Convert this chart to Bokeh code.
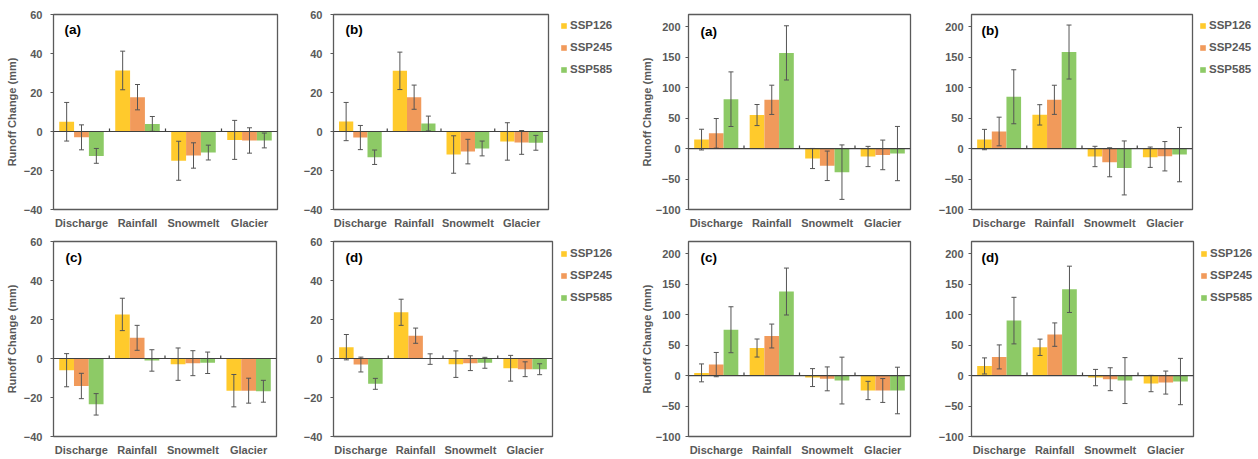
import numpy as np
from bokeh.plotting import figure
from bokeh.models import (ColumnDataSource, Range1d, FixedTicker, LinearAxis,
                          Whisker, TeeHead, Legend, LegendItem, Label, Span)
from bokeh.layouts import row, column
from bokeh.embed import file_html
from bokeh.resources import INLINE

# ---------------- data ----------------
categories = ["Discharge", "Rainfall", "Snowmelt", "Glacier"]
scenarios = ["SSP126", "SSP245", "SSP585"]

left_ticks = [-40, -20, 0, 20, 40, 60]
right_ticks = [-100, -50, 0, 50, 100, 150, 200]

# rows: SSP126, SSP245, SSP585 ; columns follow `categories`
left_a_mean = [[5.0, 31.3, -15.0, -4.3], [-3.0, 17.6, -12.3, -4.6], [-12.5, 3.9, -10.8, -4.6]]
left_a_err = [[9.9, 9.9, 10.0, 10.0], [6.4, 6.5, 6.5, 6.5], [3.8, 3.8, 3.8, 3.8]]

left_b_mean = [[5.1, 31.1, -11.8, -5.1], [-3.1, 17.6, -10.3, -5.6], [-13.2, 4.1, -8.7, -5.8]]
left_b_err = [[9.8, 9.6, 9.6, 9.6], [6.2, 6.2, 6.3, 6.1], [3.7, 3.8, 3.8, 3.8]]

left_c_mean = [[-6.0, 22.6, -2.9, -16.5], [-14.1, 10.6, -2.4, -16.5], [-23.5, -1.0, -2.2, -16.8]]
left_c_err = [[8.5, 8.3, 8.3, 8.3], [6.5, 6.4, 6.4, 6.4], [5.5, 5.5, 5.5, 5.6]]

left_d_mean = [[5.8, 23.7, -2.9, -5.0], [-3.1, 11.7, -2.4, -5.5], [-13.0, -0.3, -2.2, -5.5]]
left_d_err = [[6.5, 6.7, 6.8, 6.6], [3.8, 3.9, 3.8, 3.8], [2.8, 2.7, 2.8, 2.8]]

right_a_mean = [[14.7, 55.0, -16.3, -13.0], [25.0, 80.0, -28.3, -10.4], [81.0, 157.0, -38.7, -8.2]]
right_a_err = [[17.0, 17.3, 16.5, 16.6], [24.3, 24.0, 24.2, 24.3], [44.8, 44.5, 44.7, 44.5]]

right_b_mean = [[14.8, 55.3, -13.0, -14.2], [28.0, 80.0, -22.5, -12.6], [85.0, 158.4, -31.8, -9.9]]
right_b_err = [[16.7, 16.7, 16.7, 16.7], [23.5, 23.9, 23.8, 24.1], [44.3, 44.3, 44.3, 44.6]]

right_c_mean = [[4.4, 45.2, -3.3, -24.5], [18.0, 64.9, -5.4, -24.5], [75.2, 137.9, -8.2, -24.5]]
right_c_err = [[14.7, 14.8, 14.7, 15.0], [19.9, 19.6, 19.6, 19.6], [37.7, 38.5, 38.4, 38.2]]

right_d_mean = [[15.8, 46.4, -3.3, -13.1], [30.6, 67.2, -6.0, -11.5], [90.2, 141.5, -8.2, -9.8]]
right_d_err = [[13.2, 13.4, 13.4, 13.4], [19.7, 19.2, 18.8, 18.9], [38.2, 38.0, 37.7, 38.0]]

# ---------------- style ----------------
COLORS = ["#FFCA2C", "#F19A5B", "#8DCA66"]
FONT = "Liberation Sans"
GRAY = "#595959"
AXIS_DARK = "#404040"
BAR_W = 0.265
TICK_PX = 3


def series_source(mean, err, s):
    n = len(categories)
    vals = np.array(mean[s], dtype=float)
    e = np.array(err[s], dtype=float)
    return ColumnDataSource(dict(x=np.arange(1, n + 1) + (s - 1) * BAR_W,
                                 top=vals, upper=vals + e, lower=vals - e))


def make_panel(mean, err, tag, y_lo, y_hi, yticks, w, h, bl, br, bt, bb,
               ylabel, tick_standoff, ylab_standoff, tag_dx, tag_dy):
    n = len(categories)
    frame_h = h - bt - bb
    p = figure(width=w, height=h, x_range=Range1d(0.5, n + 0.5), y_range=Range1d(y_lo, y_hi),
               output_backend="svg", toolbar_location=None,
               x_axis_type=None, y_axis_type=None,
               min_border_left=bl, min_border_right=br, min_border_top=bt, min_border_bottom=bb,
               background_fill_color="white", border_fill_color="white",
               outline_line_color="#5a5a5a", outline_line_width=1.3)

    # category labels
    xax = LinearAxis(ticker=FixedTicker(ticks=list(range(1, n + 1))),
                     major_label_overrides={i + 1: c for i, c in enumerate(categories)})
    xax.axis_line_color = None
    xax.major_tick_line_color = None
    xax.minor_tick_line_color = None
    xax.major_tick_out = 0
    xax.major_tick_in = 0
    xax.major_label_standoff = 7
    xax.major_label_text_font = FONT
    xax.major_label_text_font_style = "bold"
    xax.major_label_text_font_size = "11px"
    xax.major_label_text_color = GRAY
    p.add_layout(xax, "below")

    # y axis
    yax = LinearAxis(ticker=FixedTicker(ticks=yticks), axis_label=ylabel)
    yax.axis_line_color = None
    yax.major_tick_out = 3
    yax.major_tick_in = 0
    yax.major_tick_line_color = GRAY
    yax.minor_tick_line_color = None
    yax.major_label_standoff = tick_standoff
    yax.major_label_text_font = FONT
    yax.major_label_text_font_style = "bold"
    yax.major_label_text_font_size = "11px"
    yax.major_label_text_color = GRAY
    yax.axis_label_standoff = ylab_standoff
    yax.axis_label_text_font = FONT
    yax.axis_label_text_font_style = "bold"
    yax.axis_label_text_font_size = "11px"
    yax.axis_label_text_color = GRAY
    p.add_layout(yax, "left")

    for s, name in enumerate(scenarios):
        src = series_source(mean, err, s)
        p.vbar(x="x", top="top", bottom=0, width=BAR_W, fill_color=COLORS[s],
               line_color=None, source=src)
        wk = Whisker(source=src, base="x", upper="upper", lower="lower",
                     line_color="#555555", line_width=1, level="overlay",
                     upper_head=TeeHead(size=5, line_color="#555555", line_width=1),
                     lower_head=TeeHead(size=5, line_color="#555555", line_width=1))
        p.add_layout(wk)

    # zero line and small category-boundary ticks (above the line)
    p.add_layout(Span(location=0, dimension="width", line_color=AXIS_DARK, line_width=1.2,
                      level="overlay"))
    tick_h = (y_hi - y_lo) / frame_h * TICK_PX
    bnd = np.arange(1, n) + 0.5
    p.segment(x0=bnd, x1=bnd, y0=np.zeros(n - 1), y1=np.full(n - 1, tick_h),
              line_color=AXIS_DARK, line_width=1.2)

    p.add_layout(Label(x=tag_dx, y=frame_h - tag_dy, x_units="screen", y_units="screen",
                       text=tag, text_font=FONT, text_font_style="bold",
                       text_font_size="13.5px", text_color="black", text_baseline="middle"))
    return p


def make_legend(mean, err, w, h, dx, first_center):
    """A narrow figure that only holds the scenario legend (its bar renderers are hidden)."""
    p = figure(width=w, height=h, x_range=Range1d(0, 1), y_range=Range1d(0, 1),
               output_backend="svg", toolbar_location=None,
               x_axis_type=None, y_axis_type=None,
               min_border_left=0, min_border_right=0, min_border_top=0, min_border_bottom=0,
               background_fill_color="white", border_fill_color="white",
               outline_line_color=None)
    items = []
    for s, name in enumerate(scenarios):
        r = p.vbar(x="x", top="top", bottom=0, width=BAR_W, fill_color=COLORS[s],
                   line_color=None, source=series_source(mean, err, s), visible=False)
        items.append(LegendItem(label=name, renderers=[r]))
    label_h, spacing = 15, 7
    leg_h = 3 * label_h + 2 * spacing
    top = first_center - label_h / 2
    leg = Legend(items=items, location=(dx, h - top - leg_h - 22),
                 margin=0, padding=0, spacing=spacing, label_height=label_h,
                 glyph_width=7, glyph_height=7, label_standoff=3,
                 border_line_color=None, background_fill_alpha=0,
                 inactive_fill_alpha=0,
                 label_text_font=FONT, label_text_font_style="bold",
                 label_text_font_size="11.5px", label_text_color=GRAY)
    p.add_layout(leg)
    return p


YL = "Runoff Change (mm)"
H1, H2 = 232, 227
la = make_panel(left_a_mean, left_a_err, "(a)", -40, 60, left_ticks, 300, H1, 53, 23, 14, 23,
                YL, 8, 3, 11, 15)
lb = make_panel(left_b_mean, left_b_err, "(b)", -40, 60, left_ticks, 250, H1, 31, 2, 14, 23,
                None, 8, 3, 12, 15)
lg1 = make_legend(left_b_mean, left_b_err, 80, H1, 10, 26)
ra = make_panel(right_a_mean, right_a_err, "(a)", -100, 220, right_ticks, 305, H1, 58, 25, 14, 23,
                YL, 5, 0, 12, 17)
rb = make_panel(right_b_mean, right_b_err, "(b)", -100, 220, right_ticks, 259, H1, 35, 2, 14, 23,
                None, 5, 0, 10, 16)
lg2 = make_legend(right_b_mean, right_b_err, 64, H1, 5, 26)

lc = make_panel(left_c_mean, left_c_err, "(c)", -40, 60, left_ticks, 300, H2, 53, 24, 8, 23,
                YL, 8, 3, 12, 17)
ld = make_panel(left_d_mean, left_d_err, "(d)", -40, 60, left_ticks, 254, H2, 31, 2, 8, 23,
                None, 8, 3, 12, 17)
lg3 = make_legend(left_d_mean, left_d_err, 76, H2, 6, 22)
rc = make_panel(right_c_mean, right_c_err, "(c)", -100, 220, right_ticks, 305, H2, 58, 25, 9, 23,
                YL, 5, 0, 12, 16)
rd = make_panel(right_d_mean, right_d_err, "(d)", -100, 220, right_ticks, 260, H2, 36, 2, 9, 23,
                None, 5, 0, 10, 16)
lg4 = make_legend(right_d_mean, right_d_err, 63, H2, 5, 22)

layout = column(row(la, lb, lg1, ra, rb, lg2), row(lc, ld, lg3, rc, rd, lg4))
open("out.html", "w").write(file_html(layout, INLINE))
